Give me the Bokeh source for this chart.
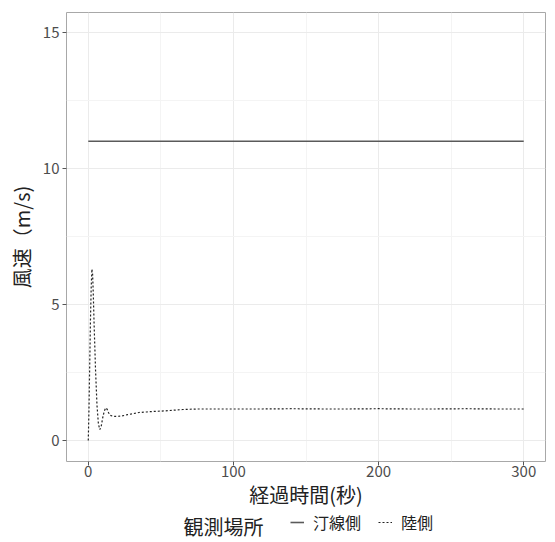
from bokeh.plotting import figure
from bokeh.models import Range1d, Legend, LegendItem, FixedTicker, Label
from bokeh.layouts import column
from bokeh.embed import file_html
from bokeh.resources import INLINE

FONT = "Noto Sans CJK JP"

# 汀線側 (solid)
shore_x = [0, 300]
shore_y = [11.0, 11.0]

# 陸側 (dotted)
land_x = [0, 0.5, 1, 1.5, 2, 2.5, 3, 3.5, 4, 5, 6, 7, 8, 9, 10, 11, 12, 13, 14, 15, 17,
          20, 23, 27, 30, 35, 40, 45, 50, 55, 60, 65, 70, 75, 80, 90, 100, 120, 140,
          160, 180, 200, 220, 240, 260, 280, 300]
land_y = [0.0, 1.2, 2.8, 4.4, 5.6, 6.3, 6.1, 5.3, 4.3, 2.6, 1.3, 0.6, 0.4, 0.55, 0.85, 1.08, 1.2, 1.15, 1.02, 0.93, 0.89,
          0.89, 0.9, 0.95, 0.98, 1.03, 1.05, 1.07, 1.08, 1.1, 1.12, 1.14, 1.15, 1.16, 1.16, 1.16, 1.16, 1.16, 1.17,
          1.16, 1.16, 1.17, 1.16, 1.16, 1.17, 1.16, 1.16]

series_labels = ["汀線側", "陸側"]
legend_title = "観測場所"

x_ticks = [0, 100, 200, 300]
y_ticks = [0, 5, 10, 15]

SOLID = dict(line_color="#5a5a5a", line_width=1.6)
DOTTED = dict(line_color="#222222", line_width=1.2, line_dash="2 2")

p = figure(width=555, height=511, output_backend="svg", toolbar_location=None,
           x_range=Range1d(-15, 315), y_range=Range1d(-0.77, 15.73),
           min_border_left=66, min_border_right=10, min_border_top=12, min_border_bottom=48)

p.background_fill_color = "white"
p.outline_line_color = "#a8a8a8"
p.outline_line_width = 1

for ax in (p.xaxis[0], p.yaxis[0]):
    ax.axis_line_color = None
    ax.major_tick_line_color = "#555555"
    ax.major_tick_out = 4
    ax.major_tick_in = 0
    ax.minor_tick_line_color = None
    ax.major_label_text_font = FONT
    ax.major_label_text_font_size = "15px"
    ax.major_label_text_color = "#4d4d4d"
    ax.axis_label_text_font = FONT
    ax.axis_label_text_font_style = "normal"
    ax.axis_label_text_font_size = "20px"
    ax.axis_label_text_color = "#222222"

p.xaxis[0].ticker = FixedTicker(ticks=x_ticks, minor_ticks=[50, 150, 250])
p.yaxis[0].ticker = FixedTicker(ticks=y_ticks, minor_ticks=[2.5, 7.5, 12.5])
p.xaxis[0].axis_label = "経過時間(秒)"
p.yaxis[0].axis_label = "風速（m/s)"
p.xaxis[0].major_label_standoff = 0
p.yaxis[0].major_label_standoff = 3
p.xaxis[0].axis_label_standoff = 0
p.yaxis[0].axis_label_standoff = 4

p.xgrid.grid_line_color = "#ebebeb"
p.ygrid.grid_line_color = "#ebebeb"
p.xgrid.minor_grid_line_color = "#f4f4f4"
p.ygrid.minor_grid_line_color = "#f4f4f4"

p.line(shore_x, shore_y, **SOLID)
p.line(land_x, land_y, **DOTTED)

# legend strip
lf = figure(width=555, height=31, output_backend="svg", toolbar_location=None,
            x_range=Range1d(0, 10), y_range=Range1d(0, 10),
            min_border_left=66, min_border_right=10, min_border_top=0, min_border_bottom=0)
lf.axis.visible = False
lf.grid.visible = False
lf.outline_line_color = None
lf.background_fill_color = "white"

k1 = lf.line([-20, -10], [-20, -20], **SOLID)
k2 = lf.line([-20, -10], [-20, -20], **DOTTED)

legend = Legend(items=[LegendItem(label=series_labels[0], renderers=[k1]),
                       LegendItem(label=series_labels[1], renderers=[k2])],
                orientation="horizontal", location=(224, 8),
                label_text_font=FONT, label_text_font_size="16px", label_text_color="#222222",
                glyph_width=14, glyph_height=18, label_standoff=9, spacing=17,
                background_fill_alpha=0, border_line_color=None, padding=0, margin=0)
lf.add_layout(legend, "center")

lf.add_layout(Label(x=117, y=16.5, x_units="screen", y_units="screen", text=legend_title,
                    text_font=FONT, text_font_size="20px", text_color="#222222",
                    text_baseline="middle"))

open("out.html", "w").write(file_html(column(p, lf, spacing=0), INLINE))
